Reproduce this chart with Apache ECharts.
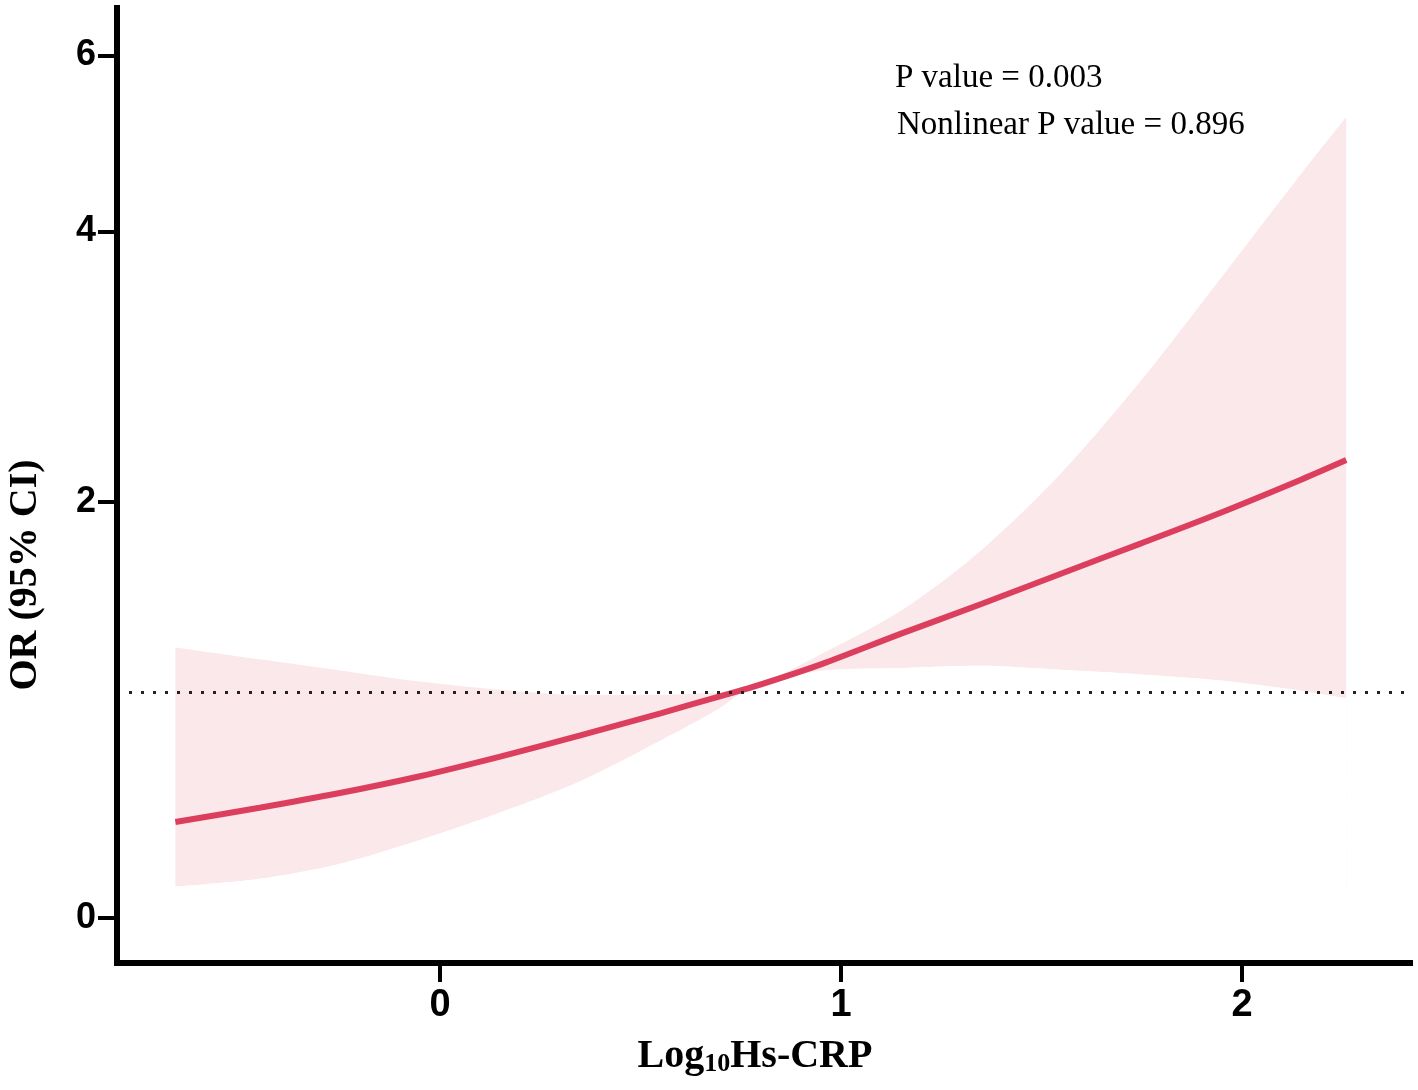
<!DOCTYPE html>
<html lang="en">

<head>
    <meta charset="UTF-8">
    <script src="https://cdn.jsdelivr.net/npm/echarts@6.0.0/dist/echarts.min.js"></script>
    <title>OR curve</title>
    <style>
        body { margin: 0; background: #fff; }
        #chart { width: 1418px; height: 1090px; }
    </style>
</head>

<body>
    <div id="chart"></div>

    <script>
        // x positions (Log10 Hs-CRP)
        var xVals = [-0.66, -0.45, -0.25, -0.05, 0.15, 0.35, 0.55, 0.70, 0.78, 0.95, 1.15, 1.35, 1.55, 1.75, 1.95, 2.15, 2.26];
        // OR estimate
        var orVals = [0.391, 0.452, 0.516, 0.590, 0.678, 0.775, 0.878, 0.96, 1.004, 1.115, 1.27, 1.425, 1.59, 1.76, 1.94, 2.14, 2.26];
        // 95% CI lower / upper
        var lowerVals = [0.124, 0.155, 0.215, 0.313, 0.430, 0.565, 0.747, 0.90, 1.00, 1.082, 1.097, 1.108, 1.088, 1.065, 1.035, 0.985, 0.950];
        var upperVals = [1.20, 1.14, 1.085, 1.03, 0.99, 0.965, 0.966, 0.978, 1.00, 1.165, 1.39, 1.72, 2.18, 2.80, 3.60, 4.58, 5.20];
        // tick labels
        var xTicks = [0, 1, 2];
        var yTicks = [0, 2, 4, 6];
        var refLine = 1;

        // y axis of the original is compressed towards the top
        var K = 0.215;
        function toAxis(v) { return 1 - Math.exp(-K * v); }
        function fromAxis(t) { return -Math.log(1 - t) / K; }

        function pairs(vals) {
            return xVals.map(function (x, i) { return [x, toAxis(vals[i])]; });
        }

        var serif = '"Liberation Serif", "Times New Roman", serif';
        var sans = '"Liberation Sans", Arial, sans-serif';
        var narrow = '"Liberation Sans Narrow", "Arial Narrow", "Liberation Sans", sans-serif';

        var myChart = echarts.init(document.getElementById('chart'));
        var option = {
            animation: false,
            grid: { left: 117, right: 8, top: 8, bottom: 127 },
            xAxis: {
                type: 'value',
                z: 5,
                min: -0.8055,
                max: 2.419,
                axisLine: { onZero: false, lineStyle: { color: '#000', width: 6, cap: 'square' } },
                axisTick: { customValues: xTicks, length: 19, lineStyle: { color: '#000', width: 4 } },
                axisLabel: {
                    customValues: xTicks,
                    margin: 24,
                    color: '#000',
                    fontSize: 38,
                    fontWeight: 'bold',
                    fontFamily: narrow
                },
                splitLine: { show: false }
            },
            yAxis: {
                type: 'value',
                z: 5,
                min: -0.0378,
                max: 0.7647,
                axisLine: { show: true, onZero: false, lineStyle: { color: '#000', width: 6, cap: 'square' } },
                axisTick: { show: true, customValues: yTicks.map(toAxis), length: 19, lineStyle: { color: '#000', width: 4 } },
                axisLabel: {
                    customValues: yTicks.map(toAxis),
                    formatter: function (v) { return String(Math.round(fromAxis(v))); },
                    margin: 21,
                    color: '#000',
                    fontSize: 36,
                    fontWeight: 'bold',
                    fontFamily: sans
                },
                splitLine: { show: false }
            },
            graphic: [
                {
                    type: 'text', x: 26, y: 575, rotation: Math.PI / 2,
                    style: { text: 'OR (95% CI)', font: 'bold 40px ' + serif, fill: '#000', textAlign: 'center', textVerticalAlign: 'middle' }
                },
                {
                    type: 'text', x: 755, y: 1057,
                    style: {
                        text: '{a|Log}{b|10}{a|Hs-CRP}',
                        textAlign: 'center', textVerticalAlign: 'middle', fill: '#000',
                        rich: {
                            a: { font: 'bold 40px ' + serif, lineHeight: 40 },
                            b: { font: 'bold 26px ' + serif, lineHeight: 18, verticalAlign: 'bottom' }
                        }
                    }
                },
                {
                    type: 'text', x: 895, y: 78,
                    style: { text: 'P value = 0.003', font: '33px ' + serif, fill: '#000', textVerticalAlign: 'middle' }
                },
                {
                    type: 'text', x: 897, y: 125,
                    style: { text: 'Nonlinear P value = 0.896', font: '33px ' + serif, fill: '#000', textVerticalAlign: 'middle' }
                }
            ],
            series: [
                {
                    // upper CI, filled down to the axis
                    name: 'upper',
                    type: 'line',
                    data: pairs(upperVals),
                    symbol: 'none',
                    smooth: 0.3,
                    silent: true,
                    lineStyle: { opacity: 0 },
                    areaStyle: { color: '#FAE8EA', opacity: 1, origin: 'start' }
                },
                {
                    // lower CI, background fill below it closes the band
                    name: 'lower',
                    type: 'line',
                    data: pairs(lowerVals),
                    symbol: 'none',
                    smooth: 0.3,
                    silent: true,
                    lineStyle: { opacity: 0 },
                    areaStyle: {
                        color: '#FFFFFF', opacity: 1, origin: 'start',
                        shadowColor: '#FFFFFF', shadowBlur: 0, shadowOffsetX: -2
                    }
                },
                {
                    name: 'OR',
                    type: 'line',
                    data: pairs(orVals),
                    symbol: 'none',
                    smooth: 0.3,
                    lineStyle: { color: '#DC3F5E', width: 6 },
                    markLine: {
                        silent: true,
                        symbol: 'none',
                        label: { show: false },
                        lineStyle: { color: '#222', width: 3, type: [3, 9] },
                        data: [{ yAxis: toAxis(refLine) }]
                    }
                }
            ]
        };
        myChart.setOption(option);
    </script>

</body>

</html>
